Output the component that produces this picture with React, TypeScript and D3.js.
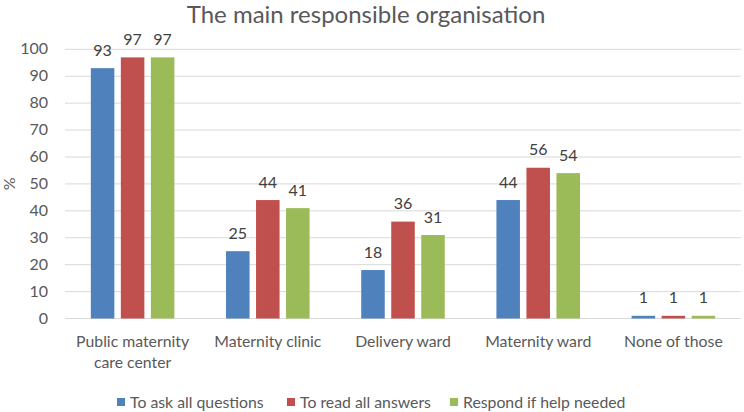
import * as d3 from "d3"

const categories = [
  ["Public maternity", "care center"],
  ["Maternity clinic"],
  ["Delivery ward"],
  ["Maternity ward"],
  ["None of those"],
]
const seriesNames = ["To ask all questions", "To read all answers", "Respond if help needed"]
const askValues = [93, 25, 18, 44, 1]
const readValues = [97, 44, 36, 56, 1]
const respondValues = [97, 41, 31, 54, 1]
const yTicks = [0, 10, 20, 30, 40, 50, 60, 70, 80, 90, 100]

const colors = ["#4F81BD", "#C0504D", "#9BBB59"]
const font = "Lato, 'Open Sans', sans-serif"

const W = 744
const H = 412
const left = 65
const right = 741
const top = 49.3
const bottom = 318.5

const App = () => {
  const series = [askValues, readValues, respondValues]
  const x = d3.scaleBand<number>().domain(d3.range(categories.length)).range([left, right])
  const y = d3.scaleLinear().domain([0, 100]).range([bottom, top])
  const bw = x.bandwidth()
  const barW = bw * 0.174
  const step = bw * 0.222

  const legendX = [117, 287, 450]

  return (
    <svg width={W} height={H} style={{ position: "absolute", left: 0, top: 0 }}>
      <rect width={W} height={H} fill="#fff" />
      <text x={366} y={23} textAnchor="middle" fontFamily={font} fontSize={24} fill="#595959">
        The main responsible organisation
      </text>
      {yTicks.map(t => (
        <g key={t}>
          <line x1={left} x2={right} y1={y(t)} y2={y(t)} stroke="#D9D9D9" strokeWidth={1} />
          <text x={48} y={y(t) + 5} textAnchor="end" fontFamily={font} fontSize={16} fill="#595959">
            {t}
          </text>
        </g>
      ))}
      <text transform={`translate(15,${(top + bottom) / 2}) rotate(-90)`} textAnchor="middle"
        fontFamily={font} fontSize={16} fill="#595959">%</text>
      {series.map((vals, si) =>
        vals.map((v, ci) => {
          const cx = x(ci)! + bw / 2 + (si - 1) * step
          return (
            <g key={`${si}-${ci}`}>
              <rect x={cx - barW / 2} y={y(v)} width={barW} height={y(0) - y(v)} fill={colors[si]} />
              <text x={cx} y={y(v) - 12.5} textAnchor="middle" fontFamily={font} fontSize={16} fill="#404040">
                {v}
              </text>
            </g>
          )
        })
      )}
      {categories.map((lines, ci) => (
        <text key={ci} textAnchor="middle" fontFamily={font} fontSize={15.8} fill="#595959">
          {lines.map((l, li) => (
            <tspan key={li} x={x(ci)! + bw / 2} y={347 + li * 21}>{l}</tspan>
          ))}
        </text>
      ))}
      {seriesNames.map((n, i) => (
        <g key={n}>
          <rect x={legendX[i]} y={398} width={8} height={8} fill={colors[i]} />
          <text x={legendX[i] + 13} y={408} fontFamily={font} fontSize={15.8} fill="#595959">{n}</text>
        </g>
      ))}
    </svg>
  )
}

export default App
